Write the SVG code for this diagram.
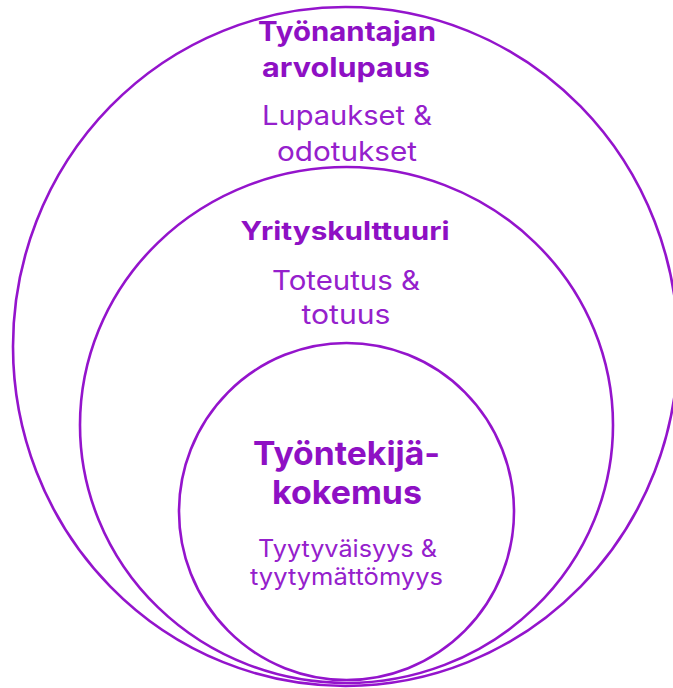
<svg xmlns="http://www.w3.org/2000/svg" width="673" height="688" viewBox="0 0 673 688">
<style>
.ring{fill:none;stroke:#9414CC;stroke-width:2.6}
.h{font-family:Inter,"Open Sans","Liberation Sans",sans-serif;font-weight:700;fill:#8E10C4;text-anchor:middle}
.s{font-family:Inter,"Open Sans","Liberation Sans",sans-serif;font-weight:400;fill:#9520CC;text-anchor:middle}
</style>
<rect width="673" height="688" fill="#ffffff"/>
<g id="outer">
<ellipse class="ring" cx="345.5" cy="346.5" rx="332.5" ry="339.5"/>
<text class="h" x="347" y="41" font-size="27" textLength="178" lengthAdjust="spacingAndGlyphs">Työnantajan</text>
<text class="h" x="346" y="77" font-size="27" textLength="168" lengthAdjust="spacingAndGlyphs">arvolupaus</text>
<text class="s" x="347" y="125" font-size="27" textLength="170" lengthAdjust="spacingAndGlyphs">Lupaukset &amp;</text>
<text class="s" x="347" y="161" font-size="27" textLength="140" lengthAdjust="spacingAndGlyphs">odotukset</text>
</g>
<g id="middle">
<ellipse class="ring" cx="346.5" cy="425" rx="266.5" ry="258"/>
<text class="h" x="345" y="240" font-size="25" textLength="209" lengthAdjust="spacingAndGlyphs">Yrityskulttuuri</text>
<text class="s" x="346" y="290" font-size="27" textLength="148" lengthAdjust="spacingAndGlyphs">Toteutus &amp;</text>
<text class="s" x="346" y="324" font-size="27" textLength="89" lengthAdjust="spacingAndGlyphs">totuus</text>
</g>
<g id="inner">
<ellipse class="ring" cx="346.5" cy="511.5" rx="167.5" ry="168.5"/>
<text class="h" x="346.5" y="465" font-size="33" textLength="187" lengthAdjust="spacingAndGlyphs">Työntekijä-</text>
<text class="h" x="347" y="504" font-size="33" textLength="150" lengthAdjust="spacingAndGlyphs">kokemus</text>
<text class="s" x="347.5" y="557" font-size="24" textLength="179" lengthAdjust="spacingAndGlyphs">Tyytyväisyys &amp;</text>
<text class="s" x="346.5" y="585" font-size="24" textLength="193" lengthAdjust="spacingAndGlyphs">tyytymättömyys</text>
</g>
<g id="connectors"></g>
</svg>
